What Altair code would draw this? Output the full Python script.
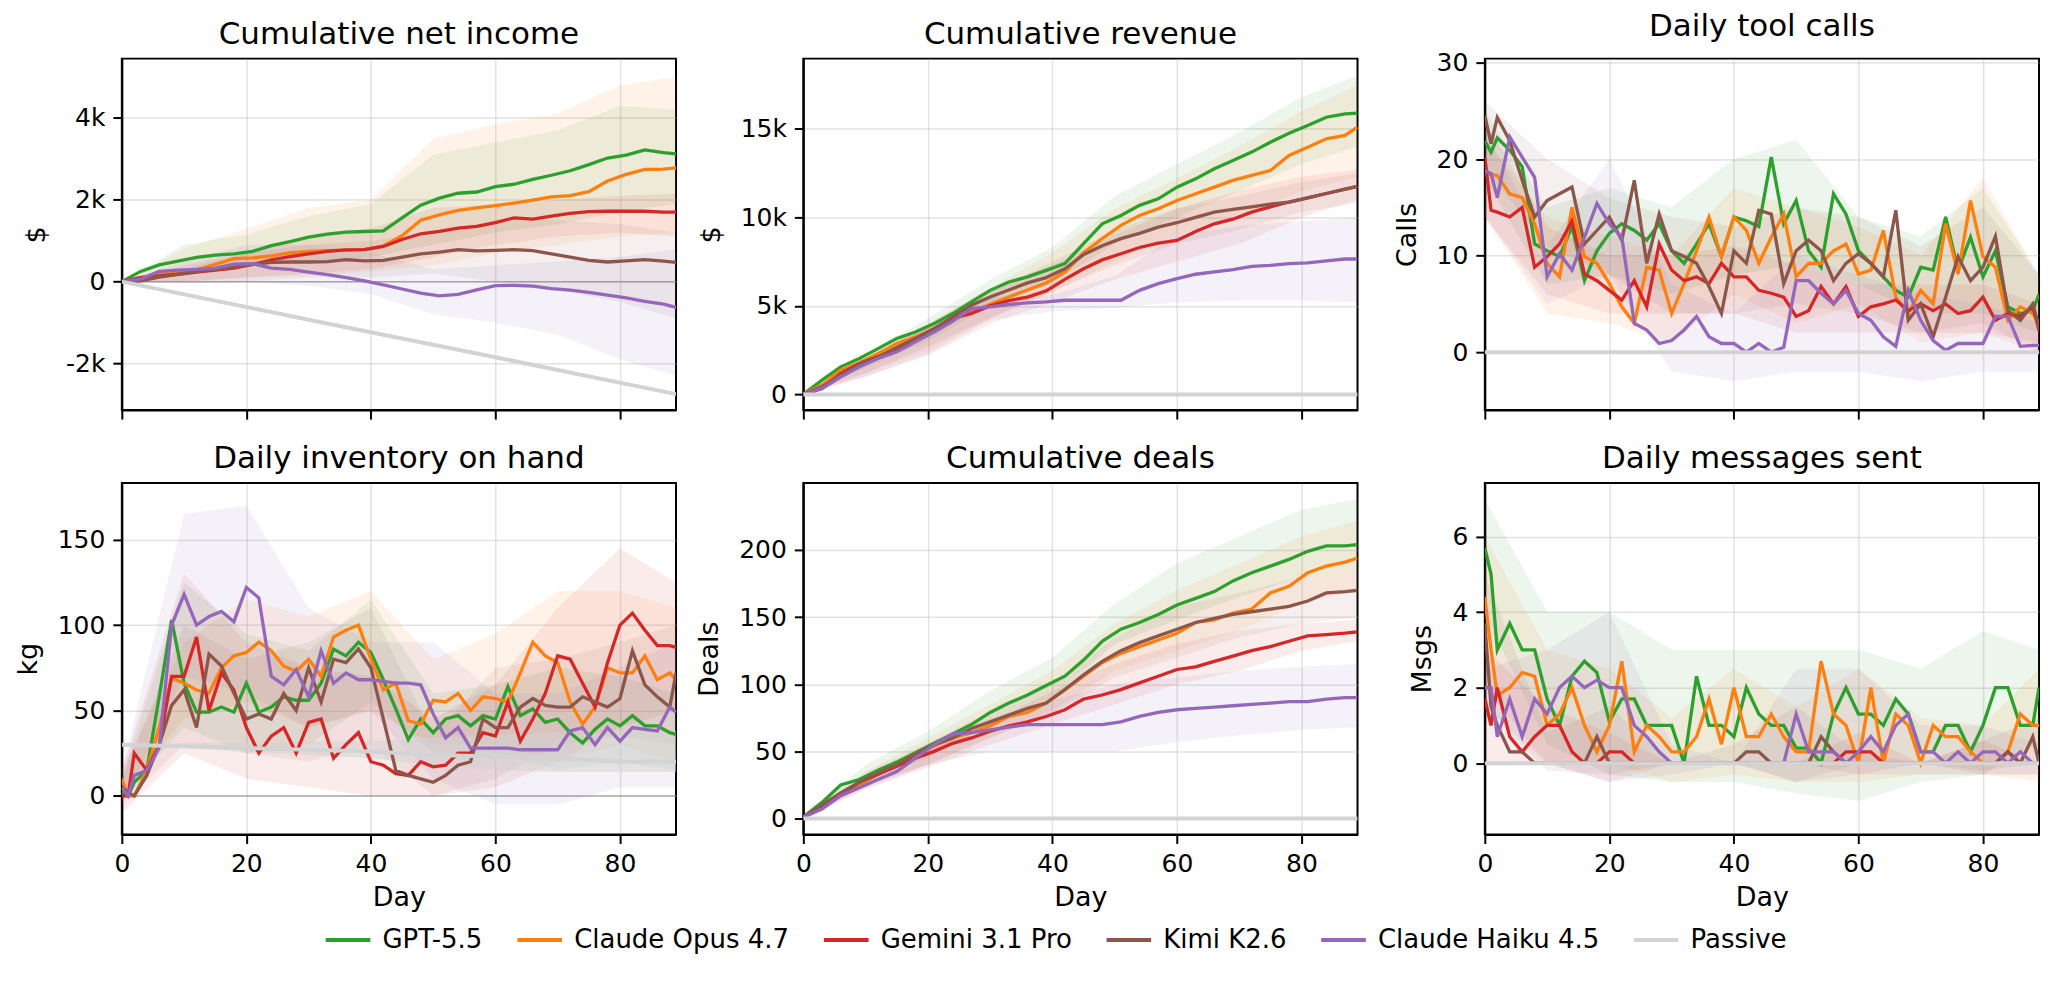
import altair as alt
import pandas as pd

MODELS = ["GPT-5.5", "Claude Opus 4.7", "Gemini 3.1 Pro", "Kimi K2.6", "Claude Haiku 4.5", "Passive"]
COLORS = ["#2ca02c", "#ff7f0e", "#d62728", "#8c564b", "#9467bd", "#d3d3d3"]

CUM_DAYS = [0, 3, 6, 9, 12, 15, 18, 21, 24, 27, 30, 33, 36, 39, 42, 45, 48, 51, 54, 57,
            60, 63, 66, 69, 72, 75, 78, 81, 84, 87, 89]
NOISY_DAYS = [0, 1, 2, 4, 6, 8, 10, 12, 14, 16, 18, 20, 22, 24, 26, 28, 30, 32, 34, 36, 38,
              40, 42, 44, 46, 48, 50, 52, 54, 56, 58, 60, 62, 64, 66, 68, 70, 72, 74, 76, 78,
              80, 82, 84, 86, 88, 89]
BAND_DAYS = [0, 10, 20, 30, 40, 50, 60, 70, 80, 89]
X_TICKS = [0, 20, 40, 60, 80]

# ---------------- Cumulative net income ----------------
NET_GPT = [0, 250, 410, 500, 590, 650, 680, 740, 880, 980, 1090, 1160, 1210, 1225, 1240, 1560,
           1870, 2040, 2160, 2190, 2320, 2380, 2500, 2600, 2710, 2860, 3020, 3090, 3220, 3150, 3120]
NET_OPUS = [0, 100, 180, 240, 290, 420, 560, 580, 630, 700, 740, 760, 770, 790, 870, 1120,
            1500, 1630, 1740, 1800, 1860, 1920, 1990, 2070, 2100, 2200, 2460, 2620, 2740, 2750, 2780]
NET_GEMINI = [0, 100, 140, 180, 230, 280, 330, 420, 530, 610, 680, 740, 775, 780, 860, 1030,
              1170, 1230, 1310, 1350, 1440, 1560, 1530, 1600, 1670, 1710, 1720, 1720, 1720, 1700, 1700]
NET_KIMI = [0, 20, 110, 180, 250, 300, 360, 420, 470, 480, 480, 490, 540, 505, 520, 600,
            680, 720, 780, 750, 765, 780, 760, 680, 600, 520, 480, 505, 540, 500, 470]
NET_HAIKU = [0, 60, 250, 280, 300, 330, 430, 440, 330, 300, 230, 170, 100, 20, -80, -180,
             -280, -350, -310, -200, -100, -90, -110, -170, -210, -260, -330, -400, -480, -550, -630]
NET_PASSIVE_DAYS = [0, 30, 60, 89]
NET_PASSIVE = [0, -930, -1850, -2750]
NET_LO = [[0, 150, 350, 500, 600, 900, 1200, 1400, 1700, 1900],
          [0, 0, 100, 150, 250, 400, 700, 900, 1100, 1200],
          [0, 0, 100, 200, 300, 600, 900, 1100, 1200, 1100],
          [0, -50, 0, 100, 100, 200, 0, -200, -500, -900],
          [0, 0, 0, -100, -300, -800, -1000, -1300, -1900, -2300]]
NET_HI = [[0, 900, 1150, 1600, 1900, 3100, 3400, 3700, 4300, 4200],
          [0, 800, 1300, 1800, 2000, 3500, 3850, 4100, 4800, 5000],
          [0, 400, 700, 1100, 1300, 1800, 1900, 2000, 2100, 2150],
          [0, 300, 700, 900, 1000, 1200, 1500, 1500, 1400, 1200],
          [0, 500, 900, 900, 700, 300, 400, 500, 600, 800]]

# ---------------- Cumulative revenue ----------------
REV_GPT = [0, 810, 1560, 2030, 2590, 3160, 3530, 4000, 4570, 5230, 5880, 6350, 6640, 7010, 7390,
           8520, 9640, 10110, 10680, 11050, 11710, 12180, 12750, 13220, 13690, 14250, 14760,
           15190, 15660, 15850, 15890]
REV_OPUS = [0, 530, 1370, 1790, 2310, 2880, 3250, 3720, 4290, 4660, 5100, 5500, 5900, 6300, 6900,
            8000, 8800, 9550, 10110, 10490, 10960, 11340, 11710, 12090, 12370, 12650, 13500,
            13970, 14440, 14630, 15100]
REV_GEMINI = [0, 340, 1180, 1750, 2120, 2500, 3060, 3670, 4290, 4570, 5000, 5300, 5500, 5850, 6500,
              7100, 7600, 7950, 8300, 8550, 8700, 9200, 9640, 9900, 10300, 10600, 10870, 11100,
              11350, 11600, 11750]
REV_KIMI = [0, 430, 1090, 1710, 2120, 2650, 3160, 3720, 4380, 5040, 5500, 5900, 6300, 6600, 7100,
            7900, 8400, 8800, 9100, 9450, 9700, 10000, 10300, 10450, 10600, 10750, 10870, 11100,
            11350, 11600, 11750]
REV_HAIKU = [0, 340, 1000, 1560, 2030, 2410, 2970, 3530, 4140, 4850, 4950, 5080, 5170, 5230, 5320,
             5320, 5320, 5320, 5880, 6260, 6540, 6790, 6920, 7050, 7240, 7290, 7390, 7430, 7540,
             7650, 7650]
REV_PASSIVE_DAYS = [0, 89]
REV_PASSIVE = [0, 0]
REV_LO = [[0, 1500, 3000, 5000, 6300, 8500, 10000, 11500, 13000, 14000],
          [0, 1200, 2500, 4300, 5800, 7500, 9000, 10000, 11500, 12300],
          [0, 1000, 2200, 4000, 5200, 6500, 7500, 8500, 10000, 11000],
          [0, 1200, 2700, 4300, 5800, 7300, 8500, 9300, 10300, 10800],
          [0, 1000, 2300, 4200, 4700, 4900, 5200, 5300, 5300, 5200]]
REV_HI = [[0, 2300, 4300, 6500, 8300, 11200, 13000, 14800, 16800, 18000],
          [0, 2000, 4000, 6000, 8000, 10500, 12200, 14000, 16000, 17500],
          [0, 2000, 4000, 6000, 7300, 9000, 10500, 11500, 12300, 12700],
          [0, 2000, 3800, 5800, 7500, 9300, 10500, 11200, 12000, 12500],
          [0, 2000, 4000, 5500, 5600, 6700, 9000, 9500, 9800, 10000]]

# ---------------- Daily tool calls ----------------
TOOL_GPT = [21.9, 20.7, 22.2, 20.9, 19.2, 11.2, 10.5, 9.9, 13.0, 7.4, 10.5, 12.3, 13.3, 12.6, 11.6,
            13.3, 10.5, 9.2, 11.2, 13.3, 9.9, 14.0, 13.6, 13.0, 20.2, 13.3, 15.7, 10.5, 8.8, 16.4,
            14.3, 10.5, 9.2, 7.8, 6.4, 5.7, 8.8, 8.5, 14.0, 8.5, 11.9, 7.8, 10.5, 4.7, 4.0, 4.3, 6.0]
TOOL_OPUS = [18.5, 18.4, 18.3, 16.4, 16.0, 13.3, 9.2, 7.8, 15.0, 9.9, 9.2, 7.1, 4.7, 3.0, 8.8,
             8.5, 4.0, 7.1, 10.5, 14.0, 9.9, 14.0, 12.6, 9.2, 11.9, 14.3, 7.8, 9.2, 9.2, 10.5,
             11.2, 8.1, 8.5, 12.6, 5.7, 4.0, 6.4, 5.0, 13.3, 8.1, 15.7, 9.9, 8.8, 3.3, 4.7, 4.0, 3.0]
TOOL_GEMINI = [20.2, 14.7, 14.5, 14.0, 15.0, 8.8, 9.9, 11.2, 13.6, 8.1, 7.4, 6.4, 5.4, 7.4, 4.7,
               11.2, 8.5, 7.4, 7.8, 7.1, 9.2, 7.8, 7.8, 6.4, 6.1, 5.7, 3.7, 4.3, 6.8, 5.0,
               6.8, 3.7, 4.7, 5.0, 5.4, 4.3, 5.0, 4.3, 5.0, 4.0, 4.3, 5.7, 3.3, 4.0, 3.7, 4.7, 2.3]
TOOL_KIMI = [24.5, 21.6, 24.3, 21.9, 17.8, 14.0, 15.7, 16.4, 17.1, 11.2, 12.6, 14.0, 11.6, 17.8, 9.2,
             14.3, 10.5, 9.9, 9.2, 6.8, 4.0, 10.5, 9.2, 14.7, 14.3, 7.1, 10.5, 11.6, 10.5, 7.4,
             9.2, 10.2, 9.2, 7.8, 14.7, 3.3, 5.0, 1.6, 5.7, 9.9, 7.4, 8.8, 12.0, 4.3, 3.3, 5.0, 2.6]
TOOL_HAIKU = [18.8, 18.5, 16.0, 22.3, 20.2, 18.1, 7.8, 10.2, 8.5, 11.9, 15.4, 13.3, 11.9, 3.0, 2.3,
              0.9, 1.2, 2.3, 3.7, 1.6, 0.9, 0.9, 0.0, 0.9, 0.0, 0.5, 7.4, 7.4, 6.1, 5.0,
              6.4, 4.0, 3.3, 1.6, 0.6, 6.4, 3.3, 1.2, 0.2, 0.9, 0.9, 0.9, 3.7, 3.7, 0.6, 0.7, 0.7]
TOOL_PASSIVE_DAYS = [0, 89]
TOOL_PASSIVE = [0, 0]
TOOL_LO = [[18, 7, 8, 6, 8, 9, 7, 4, 4, 2],
           [14, 4, 3, 1, 6, 3, 5, 1, 2, 0],
           [14, 6, 4, 4, 4, 2, 2, 2, 2, 1],
           [19, 11, 8, 4, 4, 5, 4, 2, 3, 0],
           [14, 5, 8, -2, -3, -2, -2, -3, -2, -2]]
TOOL_HI = [[25, 15, 17, 15, 20, 22, 14, 12, 17, 8],
           [22, 14, 12, 10, 17, 15, 13, 10, 18, 8],
           [24, 13, 10, 10, 11, 9, 7, 7, 7, 5],
           [26, 20, 16, 14, 13, 15, 14, 11, 15, 8],
           [23, 11, 20, 7, 4, 10, 8, 6, 5, 3]]

# ---------------- Daily inventory on hand ----------------
INV_GPT = [2, 0, 8, 15, 58, 103, 66, 49, 49, 52, 49, 66, 49, 52, 58, 56, 56, 66, 86, 82, 90, 84,
           68, 51, 33, 45, 37, 45, 47, 41, 47, 45, 64, 47, 51, 43, 45, 37, 31, 39, 45, 41, 47,
           41, 41, 37, 36]
INV_OPUS = [10, 0, 0, 15, 40, 69, 66, 62, 60, 75, 82, 84, 90, 85, 76, 73, 80, 70, 93, 97, 100, 80,
            62, 66, 44, 42, 56, 55, 60, 50, 58, 57, 55, 72, 90, 82, 78, 55, 42, 52, 75, 72, 72,
            82, 68, 72, 68]
INV_GEMINI = [0, 0, 25, 15, 30, 70, 70, 93, 50, 72, 62, 40, 25, 35, 40, 25, 43, 45, 22, 30, 37, 20,
              18, 13, 12, 20, 17, 18, 25, 25, 37, 35, 55, 32, 45, 60, 82, 80, 66, 52, 78, 100, 107,
              97, 88, 88, 87]
INV_KIMI = [5, 2, 0, 12, 30, 53, 62, 40, 83, 76, 60, 45, 48, 45, 60, 50, 75, 55, 80, 78, 86, 75,
            45, 15, 12, 10, 8, 12, 18, 20, 45, 40, 40, 52, 57, 53, 52, 52, 58, 55, 52, 57, 85,
            65, 58, 52, 72]
INV_HAIKU = [5, 0, 12, 15, 28, 100, 118, 100, 105, 108, 102, 122, 116, 70, 65, 74, 58, 85, 66, 72,
             68, 68, 67, 66, 66, 65, 48, 34, 40, 28, 28, 28, 28, 27, 27, 27, 27, 38, 40, 30, 40,
             32, 40, 39, 38, 52, 49]
INV_PASSIVE_DAYS = [0, 10, 20, 30, 40, 50, 60, 70, 80, 89]
INV_PASSIVE = [30, 29, 28, 27, 26, 24, 23, 22, 20, 20]
INV_PASSIVE_LO = [30, 28, 26, 24, 22, 18, 15, 14, 14, 14]
INV_PASSIVE_HI = [30, 31, 31, 32, 32, 34, 36, 37, 38, 38]
INV_LO = [[0, 40, 25, 30, 55, 25, 25, 15, 20, 15],
          [0, 45, 55, 40, 50, 30, 30, 20, 30, 20],
          [-10, 25, 10, 5, 0, 0, 5, 20, 40, 50],
          [-5, 30, 25, 20, 30, 0, 10, 30, 35, 30],
          [-5, 70, 60, 40, 50, 10, -5, -5, 5, 5]]
INV_HI = [[10, 125, 95, 85, 115, 60, 65, 75, 70, 60],
          [15, 90, 115, 105, 120, 80, 95, 120, 120, 110],
          [15, 130, 90, 75, 70, 45, 65, 110, 145, 125],
          [10, 100, 80, 90, 110, 35, 75, 80, 90, 100],
          [15, 165, 170, 110, 90, 90, 60, 60, 75, 90]]

# ---------------- Cumulative deals ----------------
DEAL_GPT = [1, 12, 25, 29, 36, 42, 49, 56, 63, 70, 79, 86, 92, 99, 106, 118, 132, 141, 146, 152,
            159, 164, 169, 177, 183, 188, 193, 199, 203, 203, 204]
DEAL_OPUS = [1, 9, 19, 25, 33, 39, 48, 54, 60, 64, 69, 76, 79, 86, 96, 106, 116, 123, 128, 133,
             138, 146, 148, 153, 156, 168, 173, 183, 188, 191, 194]
DEAL_GEMINI = [1, 9, 18, 27, 33, 39, 45, 50, 56, 60, 65, 69, 72, 76, 81, 89, 92, 96, 101, 106,
               111, 113, 117, 121, 125, 128, 132, 136, 137, 138, 139]
DEAL_KIMI = [1, 10, 19, 27, 34, 40, 48, 55, 60, 67, 72, 77, 82, 86, 96, 107, 117, 125, 131, 136,
             141, 146, 149, 152, 154, 156, 158, 162, 168, 169, 170]
DEAL_HAIKU = [1, 7, 17, 23, 29, 35, 45, 55, 63, 64, 66, 68, 70, 70, 70, 70, 70, 72, 76, 79,
              81, 82, 83, 84, 85, 86, 87, 87, 89, 90, 90]
DEAL_PASSIVE_DAYS = [0, 89]
DEAL_PASSIVE = [0, 0]
DEAL_LO = [[0, 28, 45, 70, 90, 130, 148, 165, 180, 185],
           [0, 24, 40, 60, 80, 110, 125, 140, 160, 170],
           [0, 22, 38, 55, 70, 85, 100, 110, 125, 132],
           [0, 25, 40, 60, 78, 105, 120, 135, 145, 150],
           [0, 22, 40, 50, 50, 50, 57, 62, 66, 68]]
DEAL_HI = [[2, 40, 65, 95, 120, 160, 190, 210, 230, 238],
           [2, 35, 60, 85, 110, 145, 170, 190, 210, 222],
           [2, 32, 55, 72, 95, 115, 130, 140, 145, 148],
           [2, 34, 56, 80, 100, 135, 158, 168, 180, 185],
           [2, 30, 55, 75, 88, 100, 105, 110, 113, 115]]

# ---------------- Daily messages sent ----------------
MSG_GPT = [5.7, 5.0, 3.0, 3.7, 3.0, 3.0, 1.7, 1.0, 2.3, 2.7, 2.4, 1.1, 1.7, 1.7, 1.0, 1.0, 1.0, 0,
           2.3, 1.0, 1.0, 0.7, 2.0, 1.3, 1.0, 1.0, 0.4, 0.4, 0, 1.3, 2.0, 1.3, 1.3, 1.0, 1.7, 1.3,
           0.3, 0.3, 1.0, 1.0, 0.3, 1.0, 2.0, 2.0, 1.0, 1.0, 2.0]
MSG_OPUS = [4.4, 3.0, 1.8, 2.0, 2.4, 2.3, 1.0, 1.3, 2.0, 1.0, 0.3, 1.0, 2.7, 0.3, 1.0, 0.7, 0.3,
            0.3, 0.7, 1.7, 0.5, 2.0, 0.7, 0.7, 1.3, 0.7, 0.3, 0.3, 2.7, 1.3, 1.0, 0, 2.0, 0, 1.3,
            1.0, 0, 1.0, 0.7, 0.7, 0.3, 0, 0, 0.3, 1.3, 1.0, 1.0]
MSG_GEMINI = [1.7, 1.0, 2.0, 0.7, 0.3, 0.7, 1.0, 1.0, 0.3, 0, 0, 0.3, 0.3, 0, 0, 0, 0, 0, 0, 0,
              0, 0, 0, 0, 0, 0, 0, 0, 0, 0, 0.3, 0.3, 0.3, 0, 0, 0, 0, 0, 0, 0, 0, 0, 0, 0.3, 0,
              0, 0]
MSG_KIMI = [3.7, 1.5, 1.0, 0.3, 0.3, 0, 0, 0, 0, 0, 0.7, 0, 0, 0, 0, 0, 0, 0, 0, 0, 0, 0, 0.3,
            0.3, 0, 0, 0, 0, 0.7, 0.3, 0, 0, 0, 0, 0, 0, 0, 0, 0, 0, 0, 0, 0, 0.3, 0, 0.7, 0]
MSG_HAIKU = [2.0, 2.0, 0.7, 1.7, 0.7, 1.7, 1.3, 2.0, 2.3, 2.0, 2.2, 2.0, 2.0, 1.0, 0.7, 0.3, 0, 0,
             0, 0, 0, 0, 0, 0, 0, 0, 1.3, 0.3, 0.3, 0.3, 0, 0.3, 0.7, 0.3, 1.0, 1.3, 0.3, 0.3, 0,
             0.3, 0, 0.3, 0.3, 0, 0.3, 0, 0]
MSG_PASSIVE_DAYS = [0, 89]
MSG_PASSIVE = [0, 0]
MSG_LO = [[4, 0.5, -0.3, -0.5, -0.5, -0.8, -1.0, -0.5, -0.3, 0.5],
          [2, 0, 0, -0.5, -0.3, -0.5, -0.5, -0.3, -0.3, -0.5],
          [0, 0, -0.5, 0, 0, 0, -0.3, 0, -0.2, 0],
          [1.5, -0.2, -0.3, 0, 0, -0.5, 0, 0, -0.3, -0.3],
          [1.5, 0, -0.5, -0.3, 0, -0.5, -0.3, -0.3, -0.3, -0.3]]
MSG_HI = [[7, 4, 4, 3, 3, 3, 3, 2.5, 3.5, 3],
          [6, 3, 2.5, 1.2, 2.5, 1.5, 2.5, 1.2, 1.0, 2.5],
          [3, 1.5, 0.8, 0, 0, 0, 0.8, 0, 0.6, 0],
          [5, 0.8, 1.5, 0, 0.5, 1.5, 0.3, 0, 0.6, 1.2],
          [2.5, 3, 4, 0.5, 0, 2.5, 2.5, 1.0, 1.0, 0.5]]

FONT = "DejaVu Sans"
color_scale = alt.Scale(domain=MODELS, range=COLORS)
LEGEND = alt.Legend(
    title=None, orient="none", legendX=202, legendY=858, direction="horizontal", columns=6,
    symbolType="stroke", symbolStrokeWidth=4, symbolSize=2000, symbolOpacity=1,
    labelFontSize=26, labelFont=FONT, labelColor="black", labelOffset=10, columnPadding=26,
    labelLimit=500,
)

K_EXPR = "datum.value == 0 ? '0' : (datum.value / 1000) + 'k'"


def panel(title, ytitle, days, series, lo, hi, pdays, pvals, ydom, yticks, lexpr, bottom,
          plo=None, phi=None):
    xaxis = alt.Axis(values=X_TICKS, labels=bottom, title="Day" if bottom else "")
    x = alt.X("day:Q", scale=alt.Scale(domain=[0, 89], nice=False, zero=False), axis=xaxis)
    yscale = alt.Scale(domain=ydom, nice=False, zero=False)
    if lexpr:
        yaxis = alt.Axis(values=yticks, title=ytitle, labelExpr=lexpr)
    else:
        yaxis = alt.Axis(values=yticks, title=ytitle)

    def y(field):
        return alt.Y(field, type="quantitative", scale=yscale, axis=yaxis)

    layers = []
    for c, l, h in zip(COLORS[:5], lo, hi):
        bdf = pd.DataFrame({"day": BAND_DAYS, "lo": l, "hi": h})
        layers.append(alt.Chart(bdf).mark_area(opacity=0.09, color=c, clip=True).encode(
            x=x, y=y("lo"), y2="hi:Q"))
    if plo is not None:
        pbdf = pd.DataFrame({"day": pdays, "lo": plo, "hi": phi})
        layers.append(alt.Chart(pbdf).mark_area(opacity=0.55, color=COLORS[5], clip=True)
                      .encode(x=x, y=y("lo"), y2="hi:Q"))
    layers.append(alt.Chart(pd.DataFrame({"z": [0]})).mark_rule(
        color="#808080", opacity=0.6, strokeWidth=1.5).encode(y=y("z")))
    for m, vals in zip(MODELS[:5], series):
        df = pd.DataFrame({"day": days, "value": vals, "model": m})
        layers.append(alt.Chart(df).mark_line(strokeWidth=3.3, clip=True).encode(
            x=x, y=y("value"),
            color=alt.Color("model:N", scale=color_scale, legend=LEGEND)))
    pdf = pd.DataFrame({"day": pdays, "value": pvals})
    layers.append(alt.Chart(pdf).mark_line(strokeWidth=4, color=COLORS[5], clip=True)
                  .encode(x=x, y=y("value")))
    return alt.layer(*layers).properties(width=555, height=352, title=title)


p1 = panel("Cumulative net income", "$", CUM_DAYS,
           [NET_GPT, NET_OPUS, NET_GEMINI, NET_KIMI, NET_HAIKU], NET_LO, NET_HI,
           NET_PASSIVE_DAYS, NET_PASSIVE, [-3140, 5450], [-2000, 0, 2000, 4000], K_EXPR, False)
p2 = panel("Cumulative revenue", "$", CUM_DAYS,
           [REV_GPT, REV_OPUS, REV_GEMINI, REV_KIMI, REV_HAIKU], REV_LO, REV_HI,
           REV_PASSIVE_DAYS, REV_PASSIVE, [-885, 18970], [0, 5000, 10000, 15000], K_EXPR, False)
p3 = panel("Daily tool calls", "Calls", NOISY_DAYS,
           [TOOL_GPT, TOOL_OPUS, TOOL_GEMINI, TOOL_KIMI, TOOL_HAIKU], TOOL_LO, TOOL_HI,
           TOOL_PASSIVE_DAYS, TOOL_PASSIVE, [-6.0, 30.4], [0, 10, 20, 30], None, False)
p4 = panel("Daily inventory on hand", "kg", NOISY_DAYS,
           [INV_GPT, INV_OPUS, INV_GEMINI, INV_KIMI, INV_HAIKU], INV_LO, INV_HI,
           INV_PASSIVE_DAYS, INV_PASSIVE, [-22.6, 183.2], [0, 50, 100, 150], None, True,
           INV_PASSIVE_LO, INV_PASSIVE_HI)
p5 = panel("Cumulative deals", "Deals", CUM_DAYS,
           [DEAL_GPT, DEAL_OPUS, DEAL_GEMINI, DEAL_KIMI, DEAL_HAIKU], DEAL_LO, DEAL_HI,
           DEAL_PASSIVE_DAYS, DEAL_PASSIVE, [-11.9, 249.9], [0, 50, 100, 150, 200], None, True)
p6 = panel("Daily messages sent", "Msgs", NOISY_DAYS,
           [MSG_GPT, MSG_OPUS, MSG_GEMINI, MSG_KIMI, MSG_HAIKU], MSG_LO, MSG_HI,
           MSG_PASSIVE_DAYS, MSG_PASSIVE, [-1.89, 7.42], [0, 2, 4, 6], None, True)

chart = alt.concat(
    p1, p2, p3, p4, p5, p6, columns=3, spacing={"row": 73, "column": 127.5}, bounds="flush"
).resolve_scale(color="shared").properties(
    padding={"left": 5, "top": 0, "right": 5, "bottom": 5}
).configure(font=FONT).configure_view(
    stroke="black", strokeWidth=2
).configure_axis(
    domainColor="black", domainWidth=2, tickColor="black", tickWidth=2, tickSize=9,
    labelFontSize=25, labelColor="black", labelPadding=8, labelFont=FONT, labelFlush=False,
    titleFontSize=27, titleFontWeight="normal", titleColor="black", titlePadding=15,
    titleFont=FONT, gridColor="#b0b0b0", gridOpacity=0.35, gridWidth=1.5,
).configure_axisX(titlePadding=8).configure_title(
    fontSize=31, fontWeight="normal", font=FONT, color="black", offset=8,
    baseline="alphabetic", anchor="middle",
)

chart.save("out.html", embed_options={"renderer": "svg", "actions": False})
